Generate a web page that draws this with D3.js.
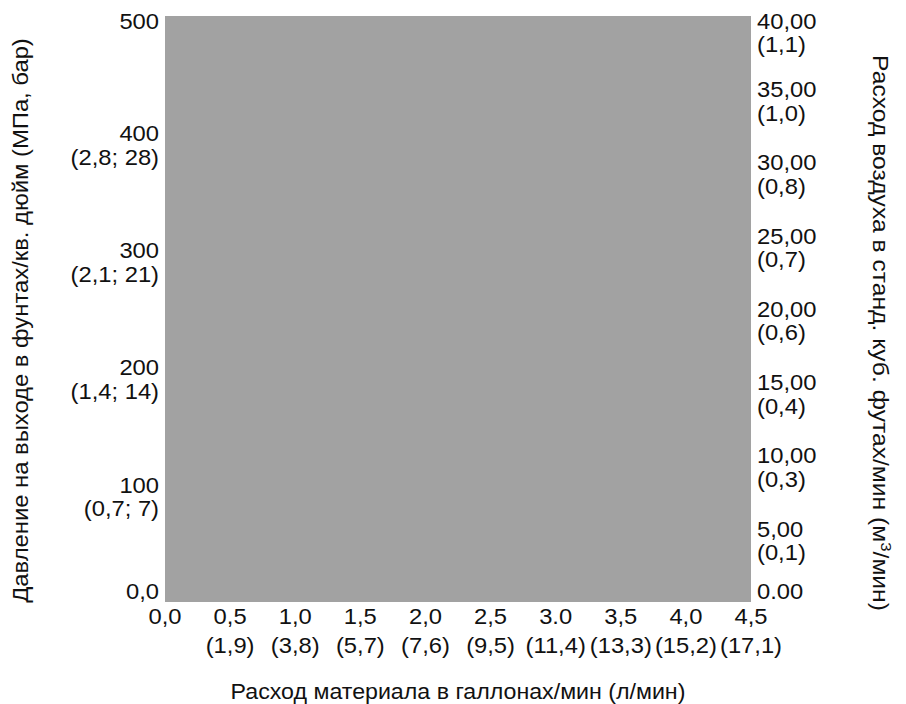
<!DOCTYPE html>
<html>
<head>
<meta charset="utf-8">
<script src="https://cdn.jsdelivr.net/npm/d3@7"></script>
<style>
  html, body { margin: 0; padding: 0; background: #fff; }
  svg { display: block; }
  text { font-family: "Liberation Sans", Arial, Helvetica, sans-serif; fill: #111; }
</style>
</head>
<body>
<svg id="chart" width="906" height="704"></svg>
<script>
// Outlet pressure axis (psi, with MPa; bar underneath)
const pressureTicks = [0, 100, 200, 300, 400, 500];
const pressureLabels = ["0,0", "100", "200", "300", "400", "500"];
const pressureMetric = ["", "(0,7; 7)", "(1,4; 14)", "(2,1; 21)", "(2,8; 28)", ""];

// Air consumption axis (scfm, m³/min underneath)
const airTicks = [0, 5, 10, 15, 20, 25, 30, 35, 40];
const airLabels = ["0.00", "5,00", "10,00", "15,00", "20,00", "25,00", "30,00", "35,00", "40,00"];
const airMetric = ["", "(0,1)", "(0,3)", "(0,4)", "(0,6)", "(0,7)", "(0,8)", "(1,0)", "(1,1)"];

// Material flow axis (gpm, l/min underneath)
const flowTicks = [0, 0.5, 1.0, 1.5, 2.0, 2.5, 3.0, 3.5, 4.0, 4.5];
const flowLabels = ["0,0", "0,5", "1,0", "1,5", "2,0", "2,5", "3.0", "3,5", "4,0", "4,5"];
const flowMetric = ["", "(1,9)", "(3,8)", "(5,7)", "(7,6)", "(9,5)", "(11,4)", "(13,3)", "(15,2)", "(17,1)"];

const W = 906, H = 704;
const margin = { top: 16, right: 155, bottom: 102, left: 165 };
const fs = 22;          // label font size
const wide = 1.08;      // horizontal stretch of the tick lettering
const digitMid = 0.358; // half cap height, in em

const svg = d3.select("#chart");

const x = d3.scaleLinear().domain([0, 4.5]).range([margin.left, W - margin.right]);
const yP = d3.scaleLinear().domain([0, 500]).range([H - margin.bottom, margin.top]);
const yA = d3.scaleLinear().domain([0, 40]).range([H - margin.bottom, margin.top]);

// Operating envelope: the whole chart field is shaded
svg.append("rect")
  .attr("x", x(0))
  .attr("y", yP(500))
  .attr("width", x(4.5) - x(0))
  .attr("height", yP(0) - yP(500))
  .attr("fill", "#a2a2a2");

// keep a label's first line inside the field's vertical extent
const clampY = y => Math.max(margin.top + 5, Math.min(H - margin.bottom - 11, y));

function twoLineVertical(g, scale, ticks, labels, metric, anchor) {
  g.selectAll("g.tick").remove();
  const t = g.selectAll("g.lbl").data(ticks).join("g")
    .attr("class", "lbl")
    .attr("transform", d => `translate(0,${clampY(scale(d))}) scale(${wide},1)`);
  const txt = t.append("text")
    .attr("text-anchor", anchor)
    .style("font-size", fs + "px");
  txt.append("tspan").attr("x", 0).attr("y", fs * digitMid).text((d, i) => labels[i]);
  txt.append("tspan").attr("x", 0).attr("y", fs * digitMid + 23.5).text((d, i) => metric[i]);
}

// Left axis
const gL = svg.append("g").attr("transform", `translate(${margin.left - 6},0)`);
gL.call(d3.axisLeft(yP).tickValues(pressureTicks).tickSize(0));
gL.select(".domain").remove();
twoLineVertical(gL, yP, pressureTicks, pressureLabels, pressureMetric, "end");

// Right axis
const gR = svg.append("g").attr("transform", `translate(${W - margin.right + 6},0)`);
gR.call(d3.axisRight(yA).tickValues(airTicks).tickSize(0));
gR.select(".domain").remove();
twoLineVertical(gR, yA, airTicks, airLabels, airMetric, "start");

// Bottom axis
const gB = svg.append("g").attr("transform", `translate(0,${H - margin.bottom})`);
gB.call(d3.axisBottom(x).tickValues(flowTicks).tickSize(0));
gB.select(".domain").remove();
gB.selectAll("g.tick").remove();
const bt = gB.selectAll("g.lbl").data(flowTicks).join("g")
  .attr("class", "lbl")
  .attr("transform", d => `translate(${x(d)},0) scale(${wide},1)`);
const btxt = bt.append("text").attr("text-anchor", "middle").style("font-size", fs + "px");
btxt.append("tspan").attr("x", 0).attr("y", 14.5 + fs * digitMid).text((d, i) => flowLabels[i]);
btxt.append("tspan").attr("x", 0).attr("y", 43 + fs * digitMid).text((d, i) => flowMetric[i]);

// Axis titles, each stretched along its run to a set length
function title(cx, cy, angle, run, build) {
  const g = svg.append("g").attr("transform", `translate(${cx},${cy}) rotate(${angle})`);
  const t = g.append("text").attr("text-anchor", "middle").style("font-size", fs + "px");
  build(t);
  const k = run / t.node().getComputedTextLength();
  t.attr("transform", `scale(${k},1)`);
}

title((x(0) + x(4.5)) / 2, 699, 0, 455,
  t => t.text("Расход материала в галлонах/мин (л/мин)"));

title(28, 320.5, -90, 565,
  t => t.text("Давление на выходе в фунтах/кв. дюйм (МПа, бар)"));

title(873, 333, 90, 556, t => {
  t.append("tspan").text("Расход воздуха в станд. куб. футах/мин (м");
  t.append("tspan").attr("baseline-shift", "super").style("font-size", "15px").text("3");
  t.append("tspan").text("/мин)");
});
</script>
</body>
</html>
